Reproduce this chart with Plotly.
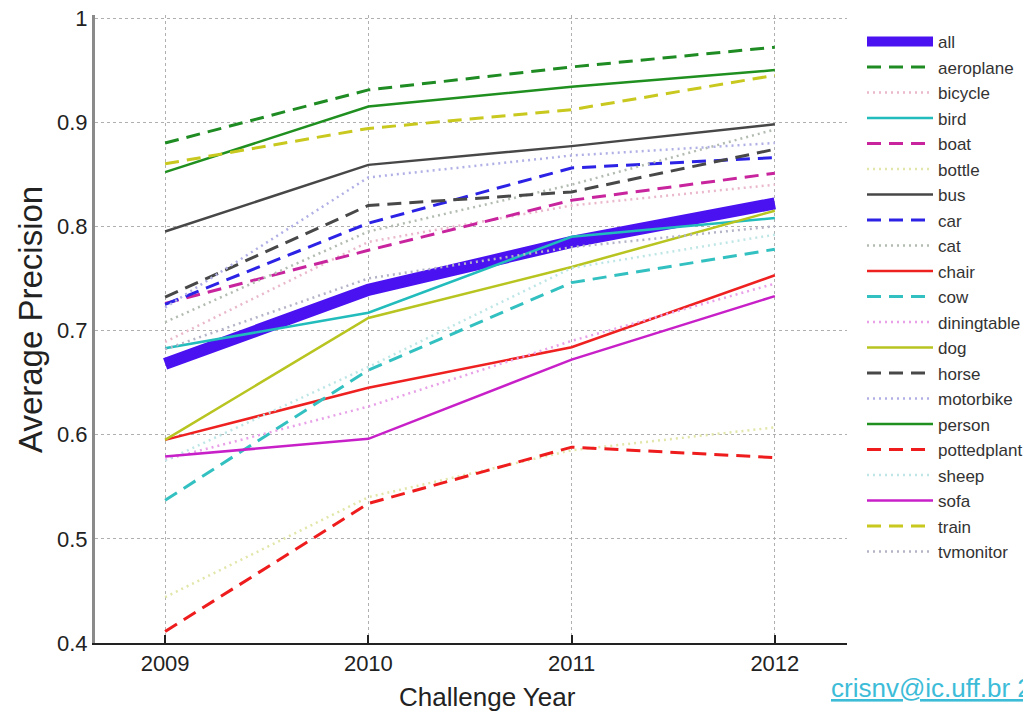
import plotly.graph_objects as go

years = [2009, 2010, 2011, 2012]

classes = ["all", "aeroplane", "bicycle", "bird", "boat", "bottle", "bus", "car", "cat",
           "chair", "cow", "diningtable", "dog", "horse", "motorbike", "person",
           "pottedplant", "sheep", "sofa", "train", "tvmonitor"]

ap_all = [0.668, 0.739, 0.785, 0.822]
ap_aeroplane = [0.880, 0.931, 0.953, 0.972]
ap_bicycle = [0.689, 0.785, 0.820, 0.840]
ap_bird = [0.683, 0.717, 0.790, 0.808]
ap_boat = [0.726, 0.777, 0.825, 0.851]
ap_bottle = [0.444, 0.540, 0.585, 0.607]
ap_bus = [0.795, 0.859, 0.877, 0.898]
ap_car = [0.725, 0.803, 0.856, 0.866]
ap_cat = [0.708, 0.795, 0.840, 0.893]
ap_chair = [0.595, 0.645, 0.684, 0.753]
ap_cow = [0.537, 0.662, 0.746, 0.778]
ap_diningtable = [0.576, 0.627, 0.690, 0.745]
ap_dog = [0.595, 0.712, 0.761, 0.815]
ap_horse = [0.732, 0.820, 0.833, 0.874]
ap_motorbike = [0.722, 0.847, 0.868, 0.880]
ap_person = [0.852, 0.915, 0.934, 0.950]
ap_pottedplant = [0.411, 0.534, 0.588, 0.578]
ap_sheep = [0.575, 0.665, 0.760, 0.792]
ap_sofa = [0.579, 0.596, 0.672, 0.733]
ap_train = [0.860, 0.894, 0.912, 0.945]
ap_tvmonitor = [0.682, 0.750, 0.780, 0.800]

values = [ap_all, ap_aeroplane, ap_bicycle, ap_bird, ap_boat, ap_bottle, ap_bus, ap_car,
          ap_cat, ap_chair, ap_cow, ap_diningtable, ap_dog, ap_horse, ap_motorbike,
          ap_person, ap_pottedplant, ap_sheep, ap_sofa, ap_train, ap_tvmonitor]

y_ticks = [0.4, 0.5, 0.6, 0.7, 0.8, 0.9, 1.0]
y_ticktext = ["0.4", "0.5", "0.6", "0.7", "0.8", "0.9", "1"]

DASH = "14px,8px"
DOT = "2px,4px"
styles = {
    "all": ("#4a12f0", "solid", 12),
    "aeroplane": ("#1e8c22", DASH, 3),
    "bicycle": ("#eab8cc", DOT, 2.5),
    "bird": ("#22bcbc", "solid", 2.5),
    "boat": ("#c8249e", DASH, 3),
    "bottle": ("#e2e6a8", DOT, 2.5),
    "bus": ("#474747", "solid", 2.5),
    "car": ("#2c22e6", DASH, 3),
    "cat": ("#b2bcb0", DOT, 2.5),
    "chair": ("#ee2020", "solid", 2.5),
    "cow": ("#33c0c0", DASH, 3),
    "diningtable": ("#e8a0e8", DOT, 2.5),
    "dog": ("#b8c420", "solid", 2.5),
    "horse": ("#484848", DASH, 3),
    "motorbike": ("#b0b0e6", DOT, 2.5),
    "person": ("#1f8f1f", "solid", 2.5),
    "pottedplant": ("#ee1c1c", DASH, 3),
    "sheep": ("#bfe6e6", DOT, 2.5),
    "sofa": ("#c820c8", "solid", 2.5),
    "train": ("#c8c81e", DASH, 3),
    "tvmonitor": ("#b4b4c8", DOT, 2.5),
}

fig = go.Figure()
for i, name in enumerate(classes):
    col, dash, w = styles[name]
    fig.add_trace(go.Scatter(
        x=years, y=values[i], name=name, mode="lines",
        line=dict(color=col, dash=dash, width=w),
        legendgroup=name, legendrank=i + 1,
    ))

# page has an 8px body margin; figure is sized to fit the 1031x716 window
OFF = 8
PLOT_TOP, PLOT_BOTTOM, PLOT_LEFT, PLOT_RIGHT = 15, 643, 95, 847
W, H = 1031 - OFF, 716 - OFF
L, T = PLOT_LEFT - OFF, PLOT_TOP - OFF
R, B = W - (PLOT_RIGHT - OFF), H - (PLOT_BOTTOM - OFF)
PW, PH = W - L - R, H - T - B
y_top = 1.0 + 0.6 * (18 - PLOT_TOP) / (PLOT_BOTTOM - 18)


def px_x(px):
    return (px - OFF - L) / PW


def px_y(py):
    return (H - B - (py - OFF)) / PH


fig.update_layout(
    width=W, height=H,
    margin=dict(l=L, r=R, t=T, b=B, autoexpand=False),
    paper_bgcolor="white", plot_bgcolor="white",
    font=dict(family="Liberation Sans, Arial, sans-serif", color="#222"),
    showlegend=True,
    legend=dict(
        x=px_x(862), y=px_y(24), xanchor="left", yanchor="top",
        font=dict(size=17, color="#333"),
        traceorder="grouped", tracegroupgap=0.4,
        bgcolor="rgba(0,0,0,0)", itemwidth=66,
    ),
)
fig.update_xaxes(
    range=[2008.655, 2012.355],
    tickvals=years, ticktext=[str(y) for y in years],
    tickfont=dict(size=22, color="#222"),
    showgrid=True, gridcolor="#b0b0b0", griddash="dot", gridwidth=1,
    showline=True, linecolor="#222", linewidth=2,
    ticks="inside", ticklen=8, tickcolor="#222", tickwidth=2,
    zeroline=False, automargin=False, ticklabeloverflow="allow",
)
fig.update_yaxes(
    range=[0.4, y_top],
    tickvals=y_ticks, ticktext=y_ticktext,
    tickfont=dict(size=22, color="#222"),
    showgrid=True, gridcolor="#b0b0b0", griddash="dot", gridwidth=1,
    showline=True, linecolor="#8a8a8a", linewidth=3,
    ticks="", zeroline=False, automargin=False, ticklabeloverflow="allow",
)
fig.add_annotation(
    x=px_x(487), y=px_y(697), xref="paper", yref="paper", text="Challenge Year",
    showarrow=False, xanchor="center", yanchor="middle",
    font=dict(size=26, color="#222"),
)
fig.add_annotation(
    x=px_x(31), y=px_y(320), xref="paper", yref="paper", text="Average Precision",
    showarrow=False, xanchor="center", yanchor="middle", textangle=-90,
    font=dict(size=33, color="#222"),
)
fig.add_annotation(
    x=px_x(829), y=px_y(688),
    xref="paper", yref="paper", text="<u>crisnv@ic.uff.br 2016</u>",
    showarrow=False, xanchor="left", yanchor="middle",
    font=dict(size=26, color="#3dbcd8", family="Liberation Sans, Arial, sans-serif"),
)
fig.write_html("out.html")
